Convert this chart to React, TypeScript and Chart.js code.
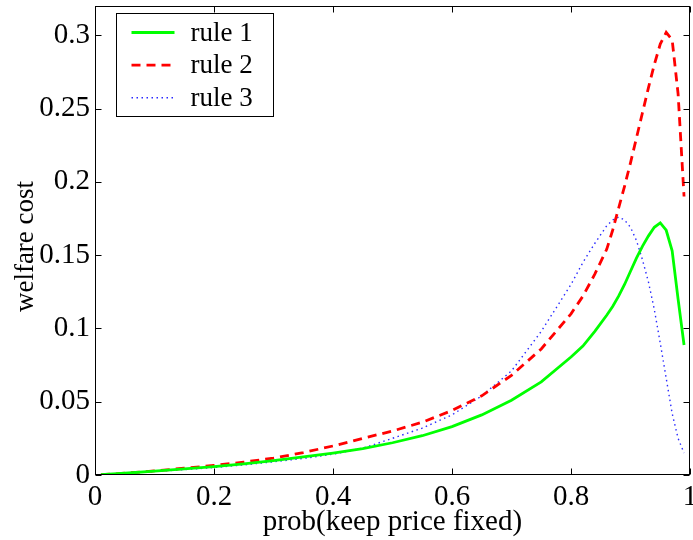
import React, { useEffect, useRef } from "react";
import { Chart, registerables } from "chart.js";
Chart.register(...registerables);

const probs = [0.01, 0.05, 0.1, 0.15, 0.2, 0.25, 0.3, 0.35, 0.4, 0.45, 0.5, 0.55, 0.6, 0.65, 0.7, 0.75, 0.8, 0.82, 0.84, 0.86, 0.87, 0.88, 0.89, 0.9, 0.91, 0.92, 0.93, 0.94, 0.95, 0.96, 0.97, 0.98, 0.99];
const rule1 = [0.0002, 0.0012, 0.0027, 0.0042, 0.0057, 0.0076, 0.0098, 0.0124, 0.015, 0.018, 0.022, 0.0268, 0.033, 0.041, 0.051, 0.0635, 0.0805, 0.088, 0.098, 0.109, 0.115, 0.122, 0.13, 0.139, 0.148, 0.156, 0.163, 0.169, 0.172, 0.167, 0.153, 0.12, 0.0887];
const rule2 = [0.0002, 0.0012, 0.0028, 0.0046, 0.0065, 0.0088, 0.0115, 0.0153, 0.0198, 0.025, 0.03, 0.036, 0.044, 0.054, 0.068, 0.086, 0.11, 0.122, 0.137, 0.154, 0.167, 0.182, 0.197, 0.213, 0.23, 0.247, 0.264, 0.28, 0.294, 0.302, 0.297, 0.26, 0.19];
const rule3 = [0.0002, 0.0011, 0.0024, 0.0037, 0.0051, 0.0069, 0.009, 0.0113, 0.0142, 0.0183, 0.025, 0.032, 0.041, 0.054, 0.071, 0.098, 0.13, 0.145, 0.158, 0.17, 0.174, 0.176, 0.174, 0.169, 0.16, 0.147, 0.132, 0.113, 0.09, 0.066, 0.042, 0.025, 0.015];
const seriesLabels = ["rule 1", "rule 2", "rule 3"];
const xTicks = [0, 0.2, 0.4, 0.6, 0.8, 1];
const yTicks = [0, 0.05, 0.1, 0.15, 0.2, 0.25, 0.3];
const xTitle = "prob(keep price fixed)";
const yTitle = "welfare cost";

const FONT = "'Liberation Serif', 'Times New Roman', serif";

const toPoints = (ys: number[]) => probs.map((x, i) => ({ x, y: ys[i] }));
const fmt = (v: number) => String(+Number(v).toFixed(2));

const framePlugin = {
  id: "framePlugin",
  afterDatasetsDraw(chart: any) {
    const { ctx, chartArea: a, scales } = chart;
    const L = Math.round(a.left) + 0.5;
    const R = Math.round(a.right) - 0.5;
    const T = Math.round(a.top) + 0.5;
    const B = Math.round(a.bottom) - 0.5;
    ctx.save();
    ctx.strokeStyle = "#000";
    ctx.lineWidth = 1;
    ctx.setLineDash([]);
    ctx.strokeRect(L, T, R - L, B - T);
    const tl = 6;
    ctx.beginPath();
    for (const t of scales.x.ticks) {
      const px = Math.round(scales.x.getPixelForValue(t.value)) + 0.5;
      ctx.moveTo(px, B); ctx.lineTo(px, B - tl);
      ctx.moveTo(px, T); ctx.lineTo(px, T + tl);
    }
    for (const t of scales.y.ticks) {
      const py = Math.round(scales.y.getPixelForValue(t.value)) + 0.5;
      ctx.moveTo(L, py); ctx.lineTo(L + tl, py);
      ctx.moveTo(R, py); ctx.lineTo(R - tl, py);
    }
    ctx.stroke();

    // axis titles
    ctx.fillStyle = "#000";
    ctx.font = `29px ${FONT}`;
    ctx.textAlign = "center";
    ctx.textBaseline = "alphabetic";
    ctx.fillText(xTitle, (a.left + a.right) / 2, 530);
    ctx.save();
    ctx.font = `27px ${FONT}`;
    ctx.translate(33, (a.top + a.bottom) / 2 + 6);
    ctx.rotate(-Math.PI / 2);
    ctx.fillText(yTitle, 0, 0);
    ctx.restore();

    // legend box inside plot
    const bx = Math.round(a.left + 21) + 0.5;
    const by = Math.round(a.top + 7) + 0.5;
    const bw = 157;
    const bh = 103;
    ctx.fillStyle = "#fff";
    ctx.fillRect(bx, by, bw, bh);
    ctx.strokeRect(bx, by, bw, bh);
    chart.data.datasets.forEach((ds: any, i: number) => {
      const y = by + 19 + i * 32.6;
      ctx.save();
      ctx.strokeStyle = ds.borderColor;
      ctx.lineWidth = ds.borderWidth;
      ctx.setLineDash(ds.borderDash || []);
      ctx.beginPath();
      ctx.moveTo(bx + 15, y);
      ctx.lineTo(bx + 58, y);
      ctx.stroke();
      ctx.restore();
      ctx.fillStyle = "#000";
      ctx.font = `27px ${FONT}`;
      ctx.textBaseline = "middle";
      ctx.textAlign = "left";
      ctx.fillText(ds.label, bx + 74, y + 1);
    });
    ctx.restore();
  },
};

export default function App() {
  const ref = useRef<HTMLCanvasElement>(null);
  useEffect(() => {
    if (!ref.current) return;
    const chart = new Chart(ref.current, {
      type: "scatter",
      data: {
        datasets: [
          { label: seriesLabels[0], data: toPoints(rule1), showLine: true, borderColor: "#00ff00", backgroundColor: "#00ff00", borderWidth: 2.8, pointRadius: 0, tension: 0 },
          { label: seriesLabels[1], data: toPoints(rule2), showLine: true, borderColor: "#ff0000", backgroundColor: "#ff0000", borderWidth: 2.8, borderDash: [9, 6], pointRadius: 0, tension: 0 },
          { label: seriesLabels[2], data: toPoints(rule3), showLine: true, borderColor: "#2a2aff", backgroundColor: "#2a2aff", borderWidth: 1.4, borderDash: [1.5, 3.5], pointRadius: 0, tension: 0 },
        ],
      },
      options: {
        responsive: false,
        animation: false,
        devicePixelRatio: 1,
        layout: { padding: { top: 6, right: 3, left: 0, bottom: 0 } },
        plugins: { legend: { display: false }, tooltip: { enabled: false } },
        scales: {
          x: {
            type: "linear",
            min: 0,
            max: 1,
            grid: { display: false, drawTicks: false },
            border: { display: false },
            afterBuildTicks: (s: any) => { s.ticks = xTicks.map((v) => ({ value: v })); },
            afterFit: (s: any) => { s.height = 65; s.paddingLeft = 0; s.paddingRight = 0; },
            ticks: { font: { family: FONT, size: 29 }, color: "#000", padding: 5, maxRotation: 0, callback: (v: any) => fmt(v) },
          },
          y: {
            type: "linear",
            min: 0,
            max: 0.32,
            grid: { display: false, drawTicks: false },
            border: { display: false },
            afterBuildTicks: (s: any) => { s.ticks = yTicks.map((v) => ({ value: v })); },
            afterFit: (s: any) => { s.width = 95; s.paddingTop = 0; s.paddingBottom = 0; },
            ticks: { font: { family: FONT, size: 29 }, color: "#000", padding: 5, callback: (v: any) => fmt(v) },
          },
        },
      },
      plugins: [framePlugin],
    } as any);
    return () => chart.destroy();
  }, []);
  return (
    <div style={{ position: "absolute", left: 0, top: 0, width: 693, height: 540, background: "#fff" }}>
      <canvas ref={ref} width={693} height={540} style={{ width: 693, height: 540, display: "block" }} />
    </div>
  );
}
